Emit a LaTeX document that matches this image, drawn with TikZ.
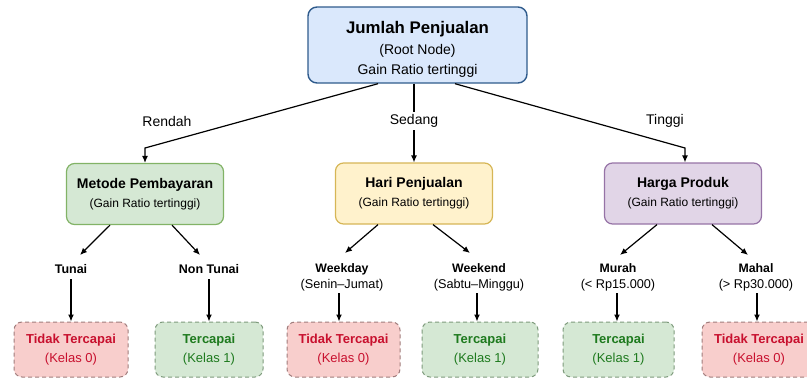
\documentclass[tikz,border=0pt]{standalone}
\usepackage{fontspec}
\setmainfont{Liberation Sans}
\usetikzlibrary{arrows.meta,calc}
\definecolor{rootfill}{HTML}{DAE8FC}
\definecolor{rootdraw}{HTML}{2F5B8C}
\definecolor{gfill}{HTML}{D5E8D4}
\definecolor{gdraw}{HTML}{82B366}
\definecolor{yfill}{HTML}{FFF2CC}
\definecolor{ydraw}{HTML}{D6B656}
\definecolor{pfill}{HTML}{E1D5E7}
\definecolor{pdraw}{HTML}{9673A6}
\definecolor{rfill}{HTML}{F8CECC}
\definecolor{rdash}{HTML}{A07C7C}
\definecolor{gdash}{HTML}{7E9A7C}
\definecolor{rtext}{HTML}{C8102E}
\definecolor{gtext}{HTML}{1E7A1E}
\tikzset{
  rootbox/.style={draw=rootdraw,fill=rootfill,line width=1.4pt,rounded corners=9pt,
    minimum width=219pt,minimum height=76pt,align=center,inner sep=0pt,
    font=\fontsize{14}{20.5}\selectfont},
  midbox/.style={line width=1.2pt,rounded corners=8pt,minimum width=157pt,minimum height=61pt,
    align=center,inner sep=0pt,font=\fontsize{12}{19}\selectfont},
  leafbox/.style={line width=1pt,dashed,dash pattern=on 4pt off 3pt,rounded corners=8pt,
    minimum height=55pt,align=center,inner sep=0pt,font=\fontsize{13}{18.5}\selectfont},
  redleaf/.style={leafbox,draw=rdash,fill=rfill,text=rtext},
  greenleaf/.style={leafbox,draw=gdash,fill=gfill,text=gtext},
  brlabel/.style={font=\fontsize{14}{16}\selectfont,inner sep=2pt},
  vallabel/.style={align=center,inner sep=0pt,font=\fontsize{12.7}{16}\selectfont},
  arr/.style={line width=1.2pt,-{Latex[length=7pt,width=6pt]}},
}
\begin{document}
\begin{tikzpicture}[x=1pt,y=-1pt]
\useasboundingbox (0,0) rectangle (807,378);
\clip (0,0) rectangle (807,378);
% root
\node[rootbox] (root) at (417.5,45) {{\fontsize{16.8}{20.5}\selectfont\bfseries\rule{0pt}{21pt}Jumlah Penjualan}\\(Root Node)\\Gain Ratio tertinggi};
% middle nodes
\node[midbox,draw=gdraw,fill=gfill] (m1) at (145,194) {{\fontsize{14}{19}\selectfont\bfseries Metode Pembayaran}\\(Gain Ratio tertinggi)};
\node[midbox,draw=ydraw,fill=yfill] (m2) at (414,193.5) {{\fontsize{14}{19}\selectfont\bfseries Hari Penjualan}\\(Gain Ratio tertinggi)};
\node[midbox,draw=pdraw,fill=pfill] (m3) at (683,193.5) {{\fontsize{14}{19}\selectfont\bfseries Harga Produk}\\(Gain Ratio tertinggi)};
% root edges
\coordinate (c1) at (145,148);
\coordinate (c3) at (685,148);
\draw[arr] ([xshift=-39.5pt]root.south) -- (c1) -- (m1.north);
\draw[arr] (root.south -| m2) -- (m2.north);
\draw[arr] ([xshift=37.5pt]root.south) -- (c3) -- (m3.north -| c3);
\node[brlabel] (lr) at (167,121) {Rendah};
\node[brlabel,fill=white] (ls) at (414,121) {Sedang};
\node[brlabel] (lt) at (665,121) {Tinggi};
% value labels
\node[vallabel] (v1) at (71,269) {{\fontsize{12.5}{16}\selectfont\bfseries Tunai}};
\node[vallabel] (v2) at (209,269) {{\fontsize{12.5}{16}\selectfont\bfseries Non Tunai}};
\node[vallabel] (v3) at (342,277) {{\fontsize{12.3}{16}\selectfont\bfseries Weekday}\\(Senin–Jumat)};
\node[vallabel] (v4) at (479,277) {{\fontsize{12.3}{16}\selectfont\bfseries Weekend}\\(Sabtu–Minggu)};
\node[vallabel] (v5) at (618,277) {{\fontsize{12.3}{16}\selectfont\bfseries Murah}\\(< Rp15.000)};
\node[vallabel] (v6) at (756,277) {{\fontsize{12.3}{16}\selectfont\bfseries Mahal}\\(> Rp30.000)};
% leaves
\node[redleaf,minimum width=114pt] (f1) at (71,349.5) {{\bfseries Tidak Tercapai}\\(Kelas 0)};
\node[greenleaf,minimum width=108pt] (f2) at (209,349.5) {{\bfseries Tercapai}\\(Kelas 1)};
\node[redleaf,minimum width=113pt] (f3) at (343.5,349.5) {{\bfseries Tidak Tercapai}\\(Kelas 0)};
\node[greenleaf,minimum width=116pt] (f4) at (480,349.5) {{\bfseries Tercapai}\\(Kelas 1)};
\node[greenleaf,minimum width=111pt] (f5) at (618.5,349.5) {{\bfseries Tercapai}\\(Kelas 1)};
\node[redleaf,minimum width=114pt] (f6) at (759,349.5) {{\bfseries Tidak Tercapai}\\(Kelas 0)};
% mid to value edges
\draw[arr] ([xshift=-35pt]m1.south) -- ($(v1)+(9,-14)$);
\draw[arr] ([xshift=27pt]m1.south) -- ($(v2)+(-9,-14)$);
\draw[arr] ([xshift=-36pt]m2.south) -- ($(v3)+(3,-24)$);
\draw[arr] ([xshift=19pt]m2.south) -- ($(v4)+(-9,-24)$);
\draw[arr] ([xshift=-26pt]m3.south) -- ($(v5)+(2,-22)$);
\draw[arr] ([xshift=29pt]m3.south) -- ($(v6)+(-8,-22)$);
% value to leaf edges
\draw[arr] ($(v1)+(0,10)$) -- (f1.north);
\draw[arr] ($(v2)+(0,10)$) -- (f2.north);
\draw[arr] ($(v3)+(-3,16)$) -- (f3.north -| 339,0);
\draw[arr] ($(v4)+(-2,16)$) -- (f4.north -| 477,0);
\draw[arr] ($(v5)+(-1,16)$) -- (f5.north -| 617,0);
\draw[arr] ($(v6)+(1,16)$) -- (f6.north -| 757,0);
\end{tikzpicture}
\end{document}
